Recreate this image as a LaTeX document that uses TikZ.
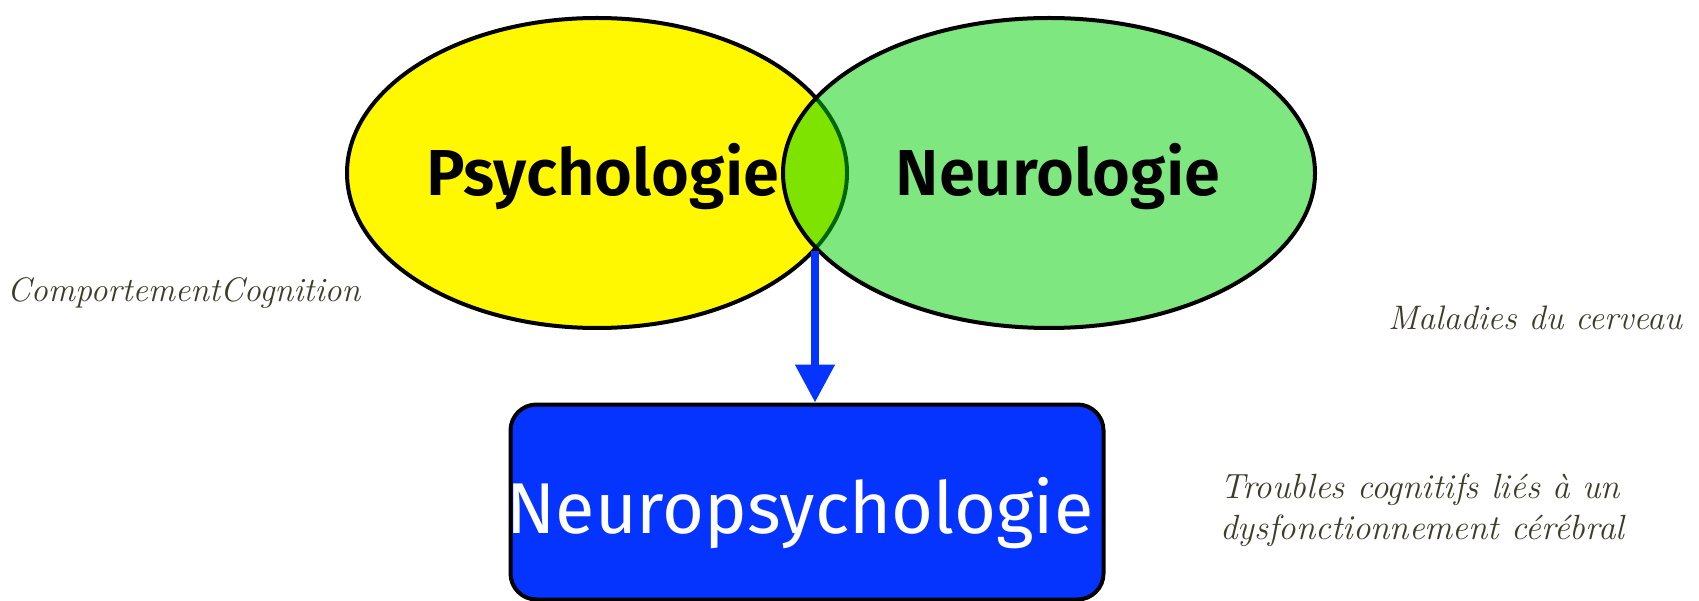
\documentclass[tikz,border=0pt]{standalone}
\usepackage{fontspec}
\setsansfont{Fira Sans}[BoldFont={Fira Sans SemiBold}]
\usetikzlibrary{arrows.meta,shapes.geometric}
\definecolor{sunyellow}{RGB}{255,248,0}
\definecolor{leafgreen}{RGB}{0,207,0}
\definecolor{royalblue}{RGB}{5,51,255}
\definecolor{noteink}{RGB}{62,60,42}
\tikzset{
  field/.style={ellipse, draw=black, line width=4pt, inner sep=0pt},
  fieldname/.style={font=\sffamily\bfseries\fontsize{65}{70}\selectfont, text=black, inner sep=0pt, anchor=base},
  note/.style={font=\itshape\fontsize{34}{41}\selectfont, text=noteink, inner sep=0pt, anchor=base west, align=left},
  resultbox/.style={draw=black, line width=4pt, fill=royalblue, rounded corners=26pt, inner sep=0pt},
  flow/.style={draw=royalblue, line width=8pt, -{Triangle[width=38pt,length=38pt]}}
}
\begin{document}
\begin{tikzpicture}[x=1pt,y=-1pt]
  \useasboundingbox (0,0) rectangle (1699,601);
  % the two overlapping disciplines
  \node[field, fill=sunyellow, minimum width=500pt, minimum height=310pt] (psy) at (597,173) {};
  \node[field, fill=leafgreen, fill opacity=0.5, draw opacity=1, minimum width=532pt, minimum height=310pt] (neuro) at (1049,173) {};
  \node[fieldname] (psylabel) at (603,196) {Psychologie};
  \node[fieldname] (neurolabel) at (1058,196) {Neurologie};
  % where they meet
  \coordinate (meet) at (815,251);
  % resulting field
  \node[resultbox, minimum width=593pt, minimum height=195pt] (np) at (807,502) {};
  \node[font=\sffamily\fontsize{72}{78}\selectfont, text=white, inner sep=0pt, anchor=base] (nplabel) at (800,533) {Neuropsychologie};
  \draw[flow] (meet) -- (meet |- np.north);
  % side notes
  \node[note] (behav) at (7,302) {ComportementCognition};
  \node[note] (brain) at (1388,330) {Maladies du cerveau};
  \node[note, font=\itshape\fontsize{35}{41}\selectfont] (disorder) at (1220,539) {Troubles cognitifs liés à un\\dysfonctionnement cérébral};
\end{tikzpicture}
\end{document}
